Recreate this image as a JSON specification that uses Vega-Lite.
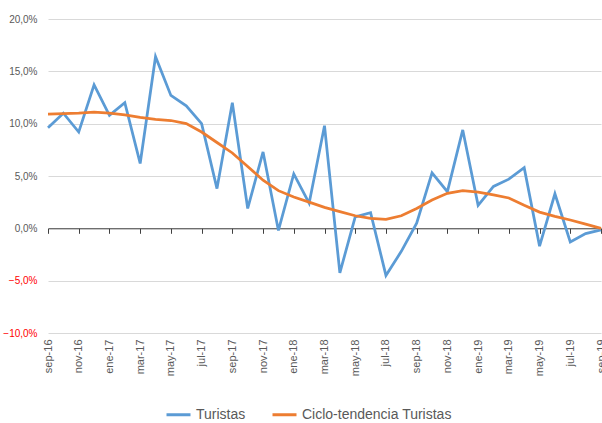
{
  "$schema": "https://vega.github.io/schema/vega-lite/v6.json",
  "autosize": "none",
  "width": 553,
  "height": 314,
  "padding": {"left": 48, "top": 19, "right": 1, "bottom": 90},
  "background": "white",
  "config": {"view": {"stroke": null}, "font": "Liberation Sans"},
  "data": {"values": [
    {"i": 0, "mes": "sep-16", "Turistas": 9.6, "Ciclo-tendencia Turistas": 10.9},
    {"i": 1, "mes": "oct-16", "Turistas": 11.0, "Ciclo-tendencia Turistas": 10.95},
    {"i": 2, "mes": "nov-16", "Turistas": 9.2, "Ciclo-tendencia Turistas": 11.0},
    {"i": 3, "mes": "dic-16", "Turistas": 13.7, "Ciclo-tendencia Turistas": 11.1},
    {"i": 4, "mes": "ene-17", "Turistas": 10.8, "Ciclo-tendencia Turistas": 11.0},
    {"i": 5, "mes": "feb-17", "Turistas": 12.0, "Ciclo-tendencia Turistas": 10.85},
    {"i": 6, "mes": "mar-17", "Turistas": 6.2, "Ciclo-tendencia Turistas": 10.6},
    {"i": 7, "mes": "abr-17", "Turistas": 16.4, "Ciclo-tendencia Turistas": 10.4},
    {"i": 8, "mes": "may-17", "Turistas": 12.7, "Ciclo-tendencia Turistas": 10.3},
    {"i": 9, "mes": "jun-17", "Turistas": 11.7, "Ciclo-tendencia Turistas": 10.0},
    {"i": 10, "mes": "jul-17", "Turistas": 10.0, "Ciclo-tendencia Turistas": 9.2},
    {"i": 11, "mes": "ago-17", "Turistas": 3.8, "Ciclo-tendencia Turistas": 8.2},
    {"i": 12, "mes": "sep-17", "Turistas": 12.0, "Ciclo-tendencia Turistas": 7.2},
    {"i": 13, "mes": "oct-17", "Turistas": 1.9, "Ciclo-tendencia Turistas": 5.9},
    {"i": 14, "mes": "nov-17", "Turistas": 7.3, "Ciclo-tendencia Turistas": 4.6},
    {"i": 15, "mes": "dic-17", "Turistas": -0.2, "Ciclo-tendencia Turistas": 3.6},
    {"i": 16, "mes": "ene-18", "Turistas": 5.2, "Ciclo-tendencia Turistas": 3.0},
    {"i": 17, "mes": "feb-18", "Turistas": 2.4, "Ciclo-tendencia Turistas": 2.5},
    {"i": 18, "mes": "mar-18", "Turistas": 9.8, "Ciclo-tendencia Turistas": 2.0},
    {"i": 19, "mes": "abr-18", "Turistas": -4.25, "Ciclo-tendencia Turistas": 1.6},
    {"i": 20, "mes": "may-18", "Turistas": 1.1, "Ciclo-tendencia Turistas": 1.2},
    {"i": 21, "mes": "jun-18", "Turistas": 1.5, "Ciclo-tendencia Turistas": 0.95},
    {"i": 22, "mes": "jul-18", "Turistas": -4.5, "Ciclo-tendencia Turistas": 0.85},
    {"i": 23, "mes": "ago-18", "Turistas": -2.2, "Ciclo-tendencia Turistas": 1.2},
    {"i": 24, "mes": "sep-18", "Turistas": 0.5, "Ciclo-tendencia Turistas": 1.9},
    {"i": 25, "mes": "oct-18", "Turistas": 5.3, "Ciclo-tendencia Turistas": 2.7},
    {"i": 26, "mes": "nov-18", "Turistas": 3.5, "Ciclo-tendencia Turistas": 3.35},
    {"i": 27, "mes": "dic-18", "Turistas": 9.4, "Ciclo-tendencia Turistas": 3.6},
    {"i": 28, "mes": "ene-19", "Turistas": 2.2, "Ciclo-tendencia Turistas": 3.45},
    {"i": 29, "mes": "feb-19", "Turistas": 4.0, "Ciclo-tendencia Turistas": 3.2},
    {"i": 30, "mes": "mar-19", "Turistas": 4.7, "Ciclo-tendencia Turistas": 2.9},
    {"i": 31, "mes": "abr-19", "Turistas": 5.8, "Ciclo-tendencia Turistas": 2.2},
    {"i": 32, "mes": "may-19", "Turistas": -1.7, "Ciclo-tendencia Turistas": 1.55},
    {"i": 33, "mes": "jun-19", "Turistas": 3.3, "Ciclo-tendencia Turistas": 1.15},
    {"i": 34, "mes": "jul-19", "Turistas": -1.3, "Ciclo-tendencia Turistas": 0.8},
    {"i": 35, "mes": "ago-19", "Turistas": -0.5, "Ciclo-tendencia Turistas": 0.4},
    {"i": 36, "mes": "sep-19", "Turistas": -0.15, "Ciclo-tendencia Turistas": 0.0}
  ]},
  "transform": [
    {"fold": ["Turistas", "Ciclo-tendencia Turistas"], "as": ["serie", "valor"]}
  ],
  "resolve": {"axis": {"x": "independent"}},
  "layer": [
    {
      "mark": {"type": "line", "strokeWidth": 2.75},
      "encoding": {
        "x": {
          "field": "mes", "type": "ordinal", "sort": {"field": "i"},
          "scale": {"type": "point", "padding": 0},
          "axis": {
            "orient": "bottom", "title": null, "domain": false, "ticks": false, "grid": false,
            "labelAngle": -90, "labelAlign": "right", "labelBaseline": "middle",
            "labelPadding": 6, "labelFontSize": 11, "labelColor": "#595959",
            "values": ["sep-16","nov-16","ene-17","mar-17","may-17","jul-17","sep-17","nov-17","ene-18","mar-18","may-18","jul-18","sep-18","nov-18","ene-19","mar-19","may-19","jul-19","sep-19"]
          }
        },
        "y": {
          "field": "valor", "type": "quantitative",
          "scale": {"domain": [-10, 20], "nice": false},
          "axis": {
            "title": null, "values": [-10, -5, 0, 5, 10, 15, 20],
            "labelExpr": "replace(format(datum.value/100, '.1%'), '.', ',')",
            "labelColor": {"condition": {"test": "datum.value < 0", "value": "#FF0000"}, "value": "#595959"},
            "labelFontSize": 10, "labelPadding": 11, "ticks": false, "domain": false,
            "gridColor": "#d9d9d9", "gridWidth": 1
          }
        },
        "color": {
          "field": "serie", "type": "nominal",
          "scale": {"domain": ["Turistas", "Ciclo-tendencia Turistas"], "range": ["#5B9BD5", "#ED7D31"]},
          "legend": {
            "title": null, "orient": "none", "direction": "horizontal",
            "legendX": 117, "legendY": 382,
            "symbolType": "stroke", "symbolSize": 576, "symbolStrokeWidth": 3,
            "labelFontSize": 14, "labelColor": "#595959", "labelOffset": 4,
            "columnPadding": 20
          }
        }
      }
    },
    {
      "mark": {"type": "point", "opacity": 0},
      "encoding": {
        "x": {
          "field": "mes", "type": "ordinal", "sort": {"field": "i"},
          "axis": {
            "orient": "bottom", "offset": -104.7, "title": null, "labels": false,
            "domain": true, "domainColor": "#404040", "domainWidth": 1,
            "ticks": true, "tickColor": "#404040", "tickSize": 5, "grid": false,
            "values": ["sep-16","nov-16","ene-17","mar-17","may-17","jul-17","sep-17","nov-17","ene-18","mar-18","may-18","jul-18","sep-18","nov-18","ene-19","mar-19","may-19","jul-19","sep-19"]
          }
        },
        "y": {"field": "valor", "type": "quantitative"}
      }
    }
  ]
}
